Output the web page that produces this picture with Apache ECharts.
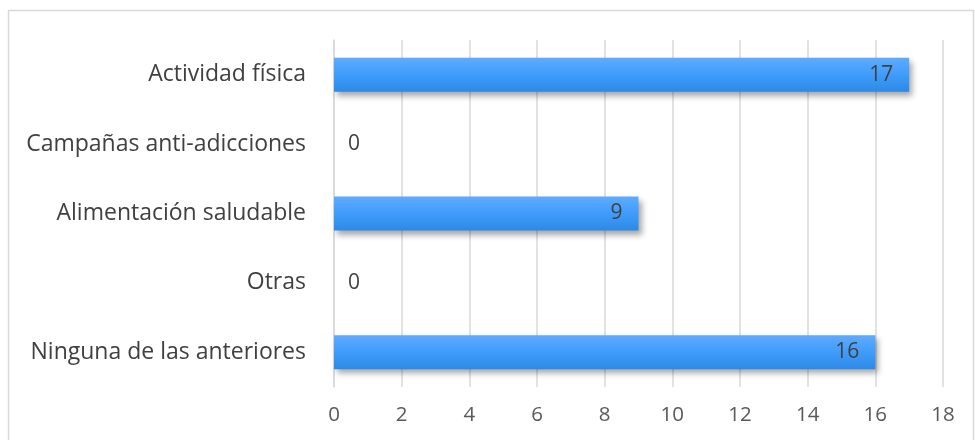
<!DOCTYPE html>
<html>
<head>
<meta charset="utf-8">
<script src="https://cdn.jsdelivr.net/npm/echarts@6/dist/echarts.min.js"></script>
<style>html,body{margin:0;padding:0;background:#fff;}#c{width:975px;height:440px;}</style>
</head>
<body>
<div id="c"></div>
<script>
const categories = ["Actividad física", "Campañas anti-adicciones", "Alimentación saludable", "Otras", "Ninguna de las anteriores"];
const values = [17, 0, 9, 0, 16];
const xTicks = [0, 2, 4, 6, 8, 10, 12, 14, 16, 18];

const chart = echarts.init(document.getElementById('c'));
const font = '"Open Sans", sans-serif';
chart.setOption({
  animation: false,
  backgroundColor: '#fff',
  graphic: [{
    type: 'rect',
    shape: {x: 8.5, y: 10.5, width: 965, height: 460},
    style: {fill: 'none', stroke: '#d9d9d9', lineWidth: 1.5},
    silent: true
  }],
  grid: {left: 334, right: 32, top: 40, bottom: 53},
  xAxis: {
    type: 'value', min: xTicks[0], max: xTicks[xTicks.length - 1], interval: 2,
    axisLine: {show: false}, axisTick: {show: false},
    splitLine: {show: true, lineStyle: {color: '#d9d9d9', width: 1.5}},
    axisLabel: {color: '#595959', fontSize: 20.5, fontFamily: font, margin: 18}
  },
  yAxis: {
    type: 'category', inverse: true, data: categories,
    axisLine: {show: true, lineStyle: {color: '#d9d9d9', width: 1.5}},
    axisTick: {show: false},
    axisLabel: {color: '#404040', fontSize: 23, fontFamily: font, margin: 28}
  },
  series: [{
    type: 'bar',
    barWidth: 34,
    data: values.map(v => ({
      value: v,
      label: v === 0 ? {position: 'right', distance: 14} : {position: 'insideRight', distance: 16}
    })),
    itemStyle: {
      color: new echarts.graphic.LinearGradient(0, 0, 0, 1, [
        {offset: 0, color: '#5eabff'},
        {offset: 0.5, color: '#409cfb'},
        {offset: 1, color: '#2c8ae6'}
      ]),
      shadowColor: 'rgba(0,0,0,0.35)', shadowBlur: 6, shadowOffsetX: 3, shadowOffsetY: 4
    },
    label: {show: true, color: '#404040', fontSize: 21, fontFamily: font}
  }]
});
</script>
</body>
</html>
